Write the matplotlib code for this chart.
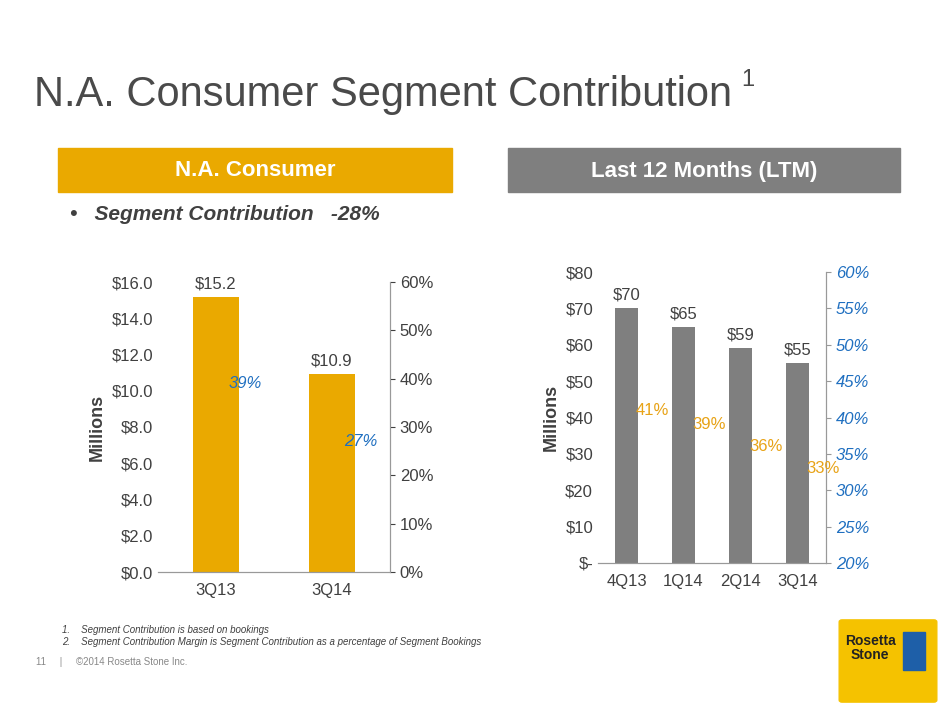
import matplotlib.pyplot as plt
from matplotlib.patches import Rectangle, FancyBboxPatch

plt.rcParams['font.family'] = ['Liberation Sans', 'DejaVu Sans']

# left chart data
left_cats = ['3Q13', '3Q14']
left_vals = [15.2, 10.9]
left_pct = [0.39, 0.27]

# right chart data (LTM)
right_cats = ['4Q13', '1Q14', '2Q14', '3Q14']
right_vals = [70, 65, 59, 55]
right_pct = [0.41, 0.39, 0.36, 0.33]

gold = '#EAA900'
grey = '#7F7F7F'
blue = '#1F6FC0'
orange = '#E8A317'
txt = '#404040'

W, H = 940, 705
fig = plt.figure(figsize=(9.4, 7.05), dpi=100)

def box(x0, y0, x1, y1):
    return [x0 / W, 1 - y1 / H, (x1 - x0) / W, (y1 - y0) / H]

fig.text(34 / W, 1 - 95 / H, 'N.A. Consumer Segment Contribution', fontsize=30, color='#4a4a4a', va='center')
fig.text(741 / W, 1 - 80 / H, '1', fontsize=17, color='#4a4a4a', va='center')

fig.patches.append(Rectangle((58 / W, 1 - 192 / H), 394 / W, 44 / H, transform=fig.transFigure, color=gold))
fig.text(255 / W, 1 - 171 / H, 'N.A. Consumer', fontsize=16, weight='bold', color='white', ha='center', va='center')
fig.patches.append(Rectangle((508 / W, 1 - 192 / H), 392 / W, 44 / H, transform=fig.transFigure, color=grey))
fig.text(704 / W, 1 - 171 / H, 'Last 12 Months (LTM)', fontsize=16, weight='bold', color='white', ha='center', va='center')
fig.text(70 / W, 1 - 214 / H, '•   Segment Contribution   -28%', fontsize=15, weight='bold', style='italic', color=txt, va='center')

fs = 12

# left chart
ax = fig.add_axes(box(158, 282, 390, 572))
x = range(len(left_cats))
ax.bar(x, left_vals, width=0.4, color=gold)
ax.set_xlim(-0.5, 1.5)
ax.set_ylim(0, 16)
ax.set_yticks([i * 2 for i in range(9)])
ax.set_yticklabels(['$%.1f' % (i * 2) for i in range(9)])
ax.set_xticks(list(x))
ax.set_xticklabels(left_cats)
for i, v in enumerate(left_vals):
    ax.text(i, v + 0.3, '$%.1f' % v, ha='center', va='bottom', fontsize=fs, color=txt)
ax.set_ylabel('Millions', fontsize=13, weight='bold', color=txt)
ax2 = ax.twinx()
ax2.set_ylim(0, 0.6)
ax2.set_yticks([i / 10 for i in range(7)])
ax2.set_yticklabels(['%d%%' % (i * 10) for i in range(7)])
for i, p in enumerate(left_pct):
    ax2.text(i + 0.25, p, '%d%%' % round(p * 100), ha='center', va='center', fontsize=fs, color=blue, style='italic')
for a in (ax, ax2):
    for s in ('top', 'left'):
        a.spines[s].set_visible(False)
    a.spines['bottom'].set_color('#999999')
    a.spines['right'].set_color('#999999')
    a.tick_params(colors=txt, labelsize=fs)
ax.tick_params(axis='y', length=0)
ax.tick_params(axis='x', length=0, pad=8)

# right chart
bx = fig.add_axes(box(598, 272, 826, 563))
x = range(len(right_cats))
bx.bar(x, right_vals, width=0.4, color=grey)
bx.set_xlim(-0.5, 3.5)
bx.set_ylim(0, 80)
bx.set_yticks(range(0, 81, 10))
bx.set_yticklabels(['$-'] + ['$%d' % v for v in range(10, 81, 10)])
bx.set_xticks(list(x))
bx.set_xticklabels(right_cats)
for i, v in enumerate(right_vals):
    bx.text(i, v + 1.5, '$%d' % v, ha='center', va='bottom', fontsize=fs, color=txt)
bx.set_ylabel('Millions', fontsize=13, weight='bold', color=txt)
bx2 = bx.twinx()
bx2.set_ylim(0.2, 0.6)
bx2.set_yticks([0.2 + i * 0.05 for i in range(9)])
bx2.set_yticklabels(['%d%%' % (20 + i * 5) for i in range(9)], color=blue, style='italic')
for i, p in enumerate(right_pct):
    bx2.text(i + 0.45, p, '%d%%' % round(p * 100), ha='center', va='center', fontsize=fs, color=orange)
for a in (bx, bx2):
    for s in ('top', 'left'):
        a.spines[s].set_visible(False)
    a.spines['bottom'].set_color('#999999')
    a.spines['right'].set_color('#999999')
    a.tick_params(labelsize=fs)
bx.tick_params(axis='y', length=0, colors=txt)
bx.tick_params(axis='x', length=0, pad=8, colors=txt)
bx2.tick_params(axis='y', colors='#999999', labelcolor=blue)

# footnotes
fig.text(62 / W, 1 - 630 / H, '1.    Segment Contribution is based on bookings', fontsize=7, style='italic', color=txt, va='center')
fig.text(62 / W, 1 - 642 / H, '2.    Segment Contribution Margin is Segment Contribution as a percentage of Segment Bookings', fontsize=7, style='italic', color=txt, va='center')
fig.text(36 / W, 1 - 662 / H, '11     |     ©2014 Rosetta Stone Inc.', fontsize=7, color='#888888', va='center')

# logo
fig.patches.append(FancyBboxPatch((842 / W, 1 - 700 / H), 92 / W, 78 / H, boxstyle='round,pad=0.003',
                                  transform=fig.transFigure, color='#F5C200'))
fig.text(870 / W, 1 - 648 / H, 'Rosetta\nStone', fontsize=10, weight='bold', color='#222222', ha='center', va='center', linespacing=1.0)
fig.patches.append(Rectangle((903 / W, 1 - 670 / H), 22 / W, 38 / H, transform=fig.transFigure, color='#1E5FA8'))

fig.savefig('out.png', dpi=100)
